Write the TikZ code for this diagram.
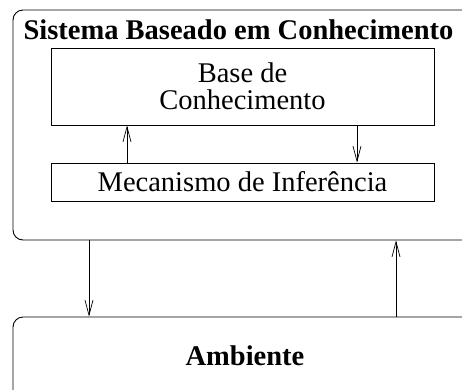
\documentclass[tikz,border=0pt]{standalone}
\usepackage{fontspec}
\setmainfont{Liberation Serif}
\usetikzlibrary{arrows.meta}
\begin{document}
\begin{tikzpicture}[x=1pt,y=-1pt,
  box/.style={draw, line width=0.9pt, inner sep=0pt},
  rbox/.style={box, rounded corners=10pt},
  lbl/.style={inner sep=0pt, font=\fontsize{28.5}{27}\selectfont},
  blbl/.style={lbl, font=\fontsize{28.5}{27}\selectfont\bfseries},
  arr/.style={line width=0.7pt, -{Straight Barb[length=15pt,width=8pt,line width=0.7pt]}}]
\useasboundingbox (0,0) rectangle (462,389);
\clip (0,0) rectangle (462,389);
\node[rbox, minimum width=487pt, minimum height=230pt] (sys) at (256.5,125) {};
\node[rbox, minimum width=487pt, minimum height=120pt] (amb) at (256.5,377) {};
\node[blbl, anchor=base] (systitle) at (238.5,39) {Sistema Baseado em Conhecimento};
\node[blbl, anchor=base] (ambtitle) at (245,365) {Ambiente};
\node[box, lbl, align=center, minimum width=383pt, minimum height=77pt] (base) at (242.5,86.5) {Base de\\Conhecimento};
\node[box, lbl, minimum width=383pt, minimum height=38pt] (mec) at (242.5,182) {Mecanismo de Inferência};
\coordinate (x1) at (127,0);
\coordinate (x2) at (357,0);
\coordinate (x3) at (89,0);
\coordinate (x4) at (396,0);
\draw[arr] (mec.north -| x1) -- (base.south -| x1);
\draw[arr] (base.south -| x2) -- (mec.north -| x2);
\draw[arr] (sys.south -| x3) -- (amb.north -| x3);
\draw[arr] (amb.north -| x4) -- (sys.south -| x4);
\end{tikzpicture}
\end{document}
